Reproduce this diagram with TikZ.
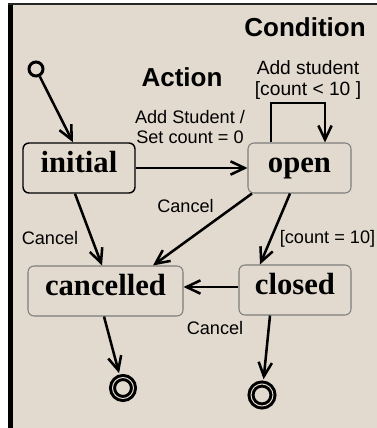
\documentclass[tikz,border=0pt]{standalone}
\usepackage{fontspec}
\setmainfont{Liberation Serif}
\setsansfont{Liberation Sans}
\usetikzlibrary{arrows.meta}
\definecolor{paper}{RGB}{226,218,207}
\definecolor{boxline}{RGB}{125,125,125}
\begin{document}
\begin{tikzpicture}[x=0.75pt,y=-0.75pt,
    state/.style={draw=boxline,line width=0.8pt,rounded corners=4.5pt,fill=paper,
      minimum height=37.5pt,inner sep=0pt,text height=0.68em,text depth=0pt,
      font=\fontsize{23}{26}\selectfont\bfseries},
    final/.style={circle,draw,double=paper,double distance=0.75pt,line width=2.25pt,inner sep=0pt},
    trans/.style={line width=1.9pt,-{Straight Barb[length=10.5pt,width=10pt]}},
    lbl/.style={font=\sffamily\fontsize{13.6}{15}\selectfont,align=center,inner sep=0pt},
    head/.style={font=\sffamily\bfseries\fontsize{19.5}{22}\selectfont,inner sep=0pt}]
  \useasboundingbox (0,0) rectangle (377,428);
  \fill[white] (0,0) rectangle (377,428);
  \fill[paper] (8,3) rectangle (377,428);
  \draw[line width=3.75pt] (10.5,3) -- (10.5,428);
  \draw[line width=1.5pt,black!85] (8,4) -- (377,4);

  \node[state,draw=black,line width=1.1pt,minimum width=84pt] (initial) at (79,168) {initial};
  \node[state,minimum width=77.25pt] (open) at (299.5,168) {open};
  \node[state,minimum width=116.25pt] (cancelled) at (105.5,291) {cancelled};
  \node[state,minimum width=84pt] (closed) at (295,290) {closed};
  \node[circle,draw,line width=2.25pt,fill=paper,minimum size=10.5pt,inner sep=0pt] (start) at (36,69) {};
  \node[final,minimum size=15.75pt] (endA) at (123,388) {};
  \node[final,minimum size=16.5pt] (endB) at (262,395) {};

  \node[head,anchor=base] (cond) at (305,37) {Condition};
  \node[head,anchor=base] (act) at (182,87) {Action};
  \node[lbl,font=\sffamily\fontsize{14.4}{15.8}\selectfont] (loopl) at (308,80) {Add student\\{[count < 10 ]}};
  \node[lbl] (addl) at (190,127) {Add Student /\\Set count = 0};
  \node[lbl,anchor=base] (cancm) at (185.5,212) {Cancel};
  \node[lbl,anchor=base] (cancl) at (50,244) {Cancel};
  \node[lbl,anchor=base] (condl) at (327.5,243) {[count = 10]};
  \node[lbl,anchor=base] (cancb) at (215,334) {Cancel};

  \draw[trans] (start) -- (initial.north -| 73,0);
  \draw[trans] (initial) -- (open);
  \draw[trans] (open.north -| 271,0) |- (325,103) -- (open.north -| 325,0);
  \draw[trans] (initial.south -| 75,0) -- (cancelled.north -| 102,0);
  \draw[trans] (open.south -| 252,0) -- (cancelled.north -| 153,0);
  \draw[trans] (open.south -| 290,0) -- (closed.north -| 260,0);
  \draw[trans] (closed.west |- 0,287) -- (cancelled.east |- 0,287);
  \draw[trans,shorten >=2.5pt] (cancelled.south -| 104,0) -- (endA);
  \draw[trans,shorten >=2.5pt] (closed.south -| 270,0) -- (endB);
\end{tikzpicture}
\end{document}
